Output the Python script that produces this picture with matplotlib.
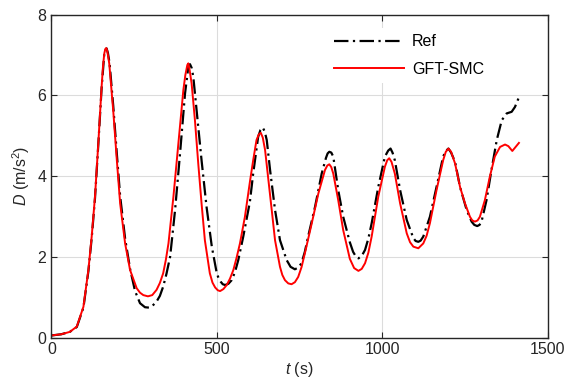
import numpy as np
import matplotlib
matplotlib.use("Agg")
import matplotlib.pyplot as plt
from matplotlib import rcParams

# values
t_ref = [0, 30, 56, 77, 97, 112, 122, 132, 142, 152, 160, 164, 167, 171, 176, 187, 198,
         208, 223, 238, 253, 268, 283, 295, 305, 318, 328, 338, 348, 359, 374, 389, 404,
         414, 419, 424, 429, 439, 454, 469, 485, 500, 506, 512, 518, 525, 535, 545, 555,
         565, 580, 600, 610, 625, 632, 639, 645, 651, 661, 676, 691, 711, 723, 736, 746,
         756, 766, 776, 797, 817, 830, 835, 840, 846, 852, 867, 882, 902, 912, 920, 928,
         938, 948, 958, 968, 988, 1008, 1018, 1025, 1031, 1038, 1054, 1074, 1094, 1101,
         1109, 1116, 1124, 1144, 1164, 1184, 1192, 1200, 1208, 1220, 1235, 1255, 1270,
         1278, 1287, 1294, 1300, 1315, 1330, 1346, 1361, 1376, 1391, 1401, 1413]
D_ref = [0.05, 0.08, 0.14, 0.26, 0.74, 1.64, 2.46, 3.45, 4.78, 6.18, 7.02, 7.13, 7.16,
         7.05, 6.80, 5.75, 4.55, 3.50, 2.45, 1.70, 1.15, 0.85, 0.75, 0.74, 0.78, 0.89,
         1.03, 1.26, 1.58, 2.00, 3.16, 4.56, 6.04, 6.70, 6.77, 6.68, 6.46, 5.63, 4.39,
         3.24, 2.25, 1.59, 1.46, 1.38, 1.32, 1.30, 1.33, 1.42, 1.62, 1.92, 2.50, 3.36,
         4.06, 4.97, 5.14, 5.20, 5.10, 4.89, 4.15, 3.16, 2.41, 1.92, 1.75, 1.69, 1.73,
         1.84, 2.12, 2.50, 3.24, 4.06, 4.45, 4.56, 4.60, 4.58, 4.48, 3.65, 2.99, 2.36,
         2.12, 2.01, 1.96, 2.02, 2.17, 2.45, 2.83, 3.73, 4.48, 4.63, 4.68, 4.58, 4.39,
         3.65, 2.91, 2.46, 2.39, 2.37, 2.40, 2.50, 2.99, 3.73, 4.48, 4.62, 4.68, 4.58,
         4.35, 3.73, 3.16, 2.87, 2.79, 2.76, 2.79, 2.87, 3.40, 4.15, 4.89, 5.38, 5.55,
         5.59, 5.71, 5.95]

t_smc = [0, 30, 56, 77, 97, 112, 122, 132, 142, 152, 156, 160, 163, 166, 169, 175, 187,
         198, 208, 223, 238, 258, 268, 278, 292, 305, 318, 328, 338, 346, 354, 369, 384,
         399, 405, 411, 414, 418, 424, 434, 444, 454, 464, 479, 487, 495, 503, 510, 520,
         530, 540, 550, 560, 570, 585, 600, 610, 620, 627, 633, 639, 646, 656, 666, 676,
         691, 698, 706, 716, 726, 736, 746, 756, 766, 787, 807, 827, 834, 840, 846, 852,
         867, 882, 902, 915, 928, 938, 948, 958, 968, 988, 1008, 1015, 1021, 1028, 1038,
         1054, 1074, 1084, 1094, 1109, 1124, 1134, 1144, 1164, 1184, 1192, 1200, 1208,
         1220, 1235, 1250, 1265, 1272, 1280, 1288, 1295, 1310, 1325, 1340, 1356, 1371,
         1381, 1393, 1403, 1413]
D_smc = [0.05, 0.08, 0.14, 0.27, 0.76, 1.67, 2.50, 3.49, 4.81, 6.21, 6.70, 7.03, 7.14,
         7.17, 7.10, 6.79, 5.63, 4.39, 3.32, 2.33, 1.67, 1.22, 1.11, 1.05, 1.02, 1.05,
         1.18, 1.35, 1.59, 1.92, 2.33, 3.49, 4.81, 6.13, 6.50, 6.75, 6.79, 6.62, 6.29,
         5.38, 4.31, 3.32, 2.41, 1.59, 1.36, 1.24, 1.17, 1.15, 1.20, 1.30, 1.46, 1.67,
         1.98, 2.33, 2.99, 3.85, 4.39, 4.89, 5.03, 5.07, 4.95, 4.64, 3.90, 3.16, 2.41,
         1.75, 1.55, 1.42, 1.34, 1.32, 1.37, 1.50, 1.74, 2.08, 2.83, 3.57, 4.15, 4.26,
         4.29, 4.22, 4.06, 3.40, 2.66, 1.95, 1.72, 1.65, 1.70, 1.84, 2.10, 2.50, 3.49,
         4.23, 4.39, 4.44, 4.35, 4.06, 3.32, 2.58, 2.36, 2.25, 2.21, 2.33, 2.52, 2.83,
         3.65, 4.39, 4.60, 4.68, 4.60, 4.31, 3.73, 3.32, 2.99, 2.90, 2.87, 2.90, 2.99,
         3.40, 3.98, 4.48, 4.72, 4.78, 4.74, 4.62, 4.72, 4.82]

rcParams['font.family'] = ['Liberation Sans', 'DejaVu Sans']
rcParams['mathtext.fontset'] = 'custom'
rcParams['mathtext.rm'] = 'Liberation Sans'
rcParams['mathtext.it'] = 'Liberation Sans:italic'
rcParams['font.size'] = 11.5

fig = plt.figure(figsize=(5.67, 3.90), dpi=100)
ax = fig.add_axes([0.0905, 0.1346, 0.8755, 0.8282])

ax.plot(t_ref, D_ref, color='black', linewidth=1.6, linestyle=(0, (6.5, 2, 1, 2)), label='Ref')
ax.plot(t_smc, D_smc, color='red', linewidth=1.4, label='GFT-SMC')

ax.set_xlim(0, 1500)
ax.set_ylim(0, 8)
ax.set_xticks([0, 500, 1000, 1500])
ax.set_yticks([0, 2, 4, 6, 8])
ax.grid(True, color='#dcdcdc', linewidth=0.8)
ax.set_axisbelow(True)
for s in ax.spines.values():
    s.set_color('#262626')
    s.set_linewidth(1.0)
ax.tick_params(direction='in', top=True, right=True, length=4, width=0.8,
               colors='#262626', labelcolor='#262626')

ax.set_xlabel(r'$t$ (s)', color='#262626', labelpad=2)
ax.set_ylabel(r'$D$ (m/s$^2$)', color='#262626', labelpad=4)

leg = ax.legend(loc='center left', bbox_to_anchor=(0.556, 0.873), bbox_transform=ax.transAxes,
                borderaxespad=0, borderpad=0.4, handlelength=4.4, handletextpad=0.5,
                labelspacing=0.8, frameon=True, fancybox=False, framealpha=1)
leg.get_frame().set_edgecolor('none')
leg.get_frame().set_facecolor('white')

fig.savefig('out.png', dpi=100)
